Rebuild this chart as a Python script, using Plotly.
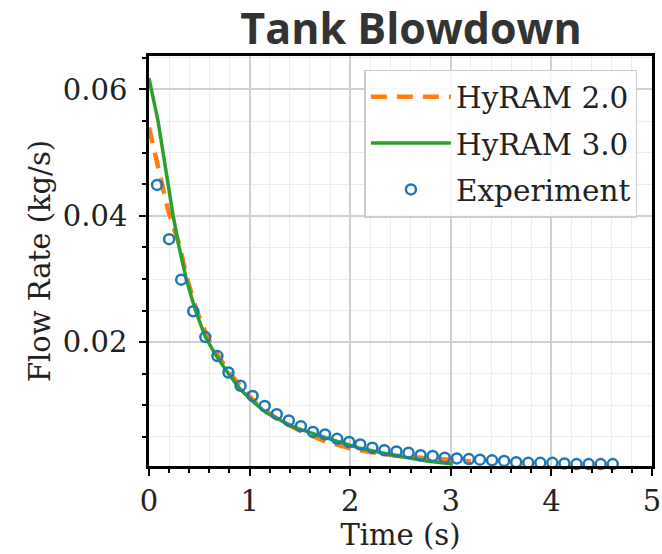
import plotly.graph_objects as go

# HyRAM 2.0 (orange dashed)
t_h2 = [0.00, 0.11, 0.19, 0.30, 0.38, 0.47, 0.58, 0.70, 0.82, 0.95, 1.10, 1.30, 1.50, 1.75, 2.00, 2.30, 2.60, 2.90, 3.20]
f_h2 = [0.0540, 0.0468, 0.0409, 0.0355, 0.0300, 0.0252, 0.0208, 0.0175, 0.0148, 0.0122, 0.0098, 0.0076, 0.0060, 0.0043, 0.0032, 0.0023, 0.0018, 0.0015, 0.0011]

# HyRAM 3.0 (green solid)
t_h3 = [0.00, 0.09, 0.14, 0.19, 0.24, 0.30, 0.37, 0.46, 0.56, 0.67, 0.79, 0.91, 1.04, 1.16, 1.43, 1.77, 2.10, 2.43, 2.76, 3.02]
f_h3 = [0.0618, 0.0550, 0.0500, 0.0450, 0.0400, 0.0350, 0.0300, 0.0251, 0.0208, 0.0178, 0.0150, 0.0125, 0.0105, 0.0089, 0.0066, 0.0048, 0.0032, 0.0021, 0.0012, 0.0007]

# Experiment (blue open circles)
t_exp = [0.08, 0.20, 0.32, 0.44, 0.56, 0.68, 0.79, 0.91, 1.03, 1.15, 1.27, 1.39, 1.51, 1.63, 1.75, 1.87,
         1.99, 2.10, 2.22, 2.34, 2.46, 2.58, 2.70, 2.82, 2.94, 3.06, 3.18, 3.29, 3.41, 3.53, 3.65, 3.77,
         3.89, 4.01, 4.13, 4.25, 4.37, 4.49, 4.61]
f_exp = [0.0449, 0.0363, 0.0299, 0.0249, 0.0208, 0.0178, 0.0152, 0.0131, 0.0115, 0.0099, 0.0086, 0.0076,
         0.0067, 0.0058, 0.0054, 0.0047, 0.0042, 0.0038, 0.0033, 0.0029, 0.0027, 0.0025, 0.0021, 0.0020,
         0.0017, 0.0016, 0.0015, 0.0014, 0.0013, 0.0012, 0.0010, 0.0009, 0.0009, 0.0009, 0.0008, 0.0007,
         0.0007, 0.0007, 0.0007]

x_ticks = [0, 1, 2, 3, 4, 5]
y_ticks = [0.02, 0.04, 0.06]
y_tick_text = ["0.02", "0.04", "0.06"]

SERIF = "DejaVu Serif"
FS = 29

fig = go.Figure()
fig.add_trace(go.Scatter(x=t_h2, y=f_h2, mode="lines", name="HyRAM 2.0",
                         line=dict(color="#ff7f0e", width=4.5, dash="16px,10px"),
                         legendgroup="a"))
fig.add_trace(go.Scatter(x=t_h3, y=f_h3, mode="lines", name="HyRAM 3.0",
                         line=dict(color="#2ca02c", width=3.5),
                         legendgroup="b"))
fig.add_trace(go.Scatter(x=t_exp, y=f_exp, mode="markers", name="Experiment",
                         marker=dict(symbol="circle-open", size=10, color="#1f77b4",
                                     line=dict(width=2.5, color="#1f77b4")),
                         cliponaxis=False, legendgroup="c"))

axis_common = dict(
    showline=True, linecolor="black", linewidth=2.5, mirror=True,
    ticks="outside", ticklen=7, tickwidth=2, tickcolor="black",
    showgrid=True, gridcolor="#d0d0d0", gridwidth=1.5,
    zeroline=False, automargin=False,
    tickfont=dict(family=SERIF, size=FS, color="#222"),
    title_font=dict(family=SERIF, size=FS, color="#222"),
)

fig.update_xaxes(
    range=[0, 5], tickvals=x_ticks, ticktext=[str(v) for v in x_ticks],
    title_text="Time (s)", title_standoff=5,
    minor=dict(dtick=0.2, tick0=0, ticks="outside", ticklen=4, tickwidth=1.5, tickcolor="black",
               showgrid=True, gridcolor="#ececec", gridwidth=1),
    ticklabelstandoff=0,
    **axis_common,
)
fig.update_yaxes(
    range=[0.0004, 0.0653], tickvals=y_ticks, ticktext=y_tick_text,
    title_text="Flow Rate (kg/s)", title_standoff=4,
    minor=dict(dtick=0.005, tick0=0, ticks="outside", ticklen=4, tickwidth=1.5, tickcolor="black",
               showgrid=True, gridcolor="#ececec", gridwidth=1),
    ticklabelstandoff=6,
    **axis_common,
)

fig.update_layout(
    width=662, height=554,
    margin=dict(l=149, r=10, t=56, b=88),
    plot_bgcolor="white", paper_bgcolor="white",
    title=dict(text="<b>Tank Blowdown</b>", font=dict(family="Open Sans", size=43, color="#333"),
               x=411 / 662, xref="container", xanchor="center",
               y=1 - 29 / 554, yref="container", yanchor="middle"),
    legend=dict(
        x=0.971, y=0.967, xanchor="right", yanchor="top",
        bgcolor="rgba(255,255,255,0.85)", bordercolor="#cccccc", borderwidth=1.5,
        font=dict(family=SERIF, size=29.5, color="#222"),
        itemwidth=80, tracegroupgap=5,
    ),
    showlegend=True,
)

fig.write_html("out.html", config={"displayModeBar": False},
               post_script="document.body.style.margin='0';document.body.style.padding='0';")
